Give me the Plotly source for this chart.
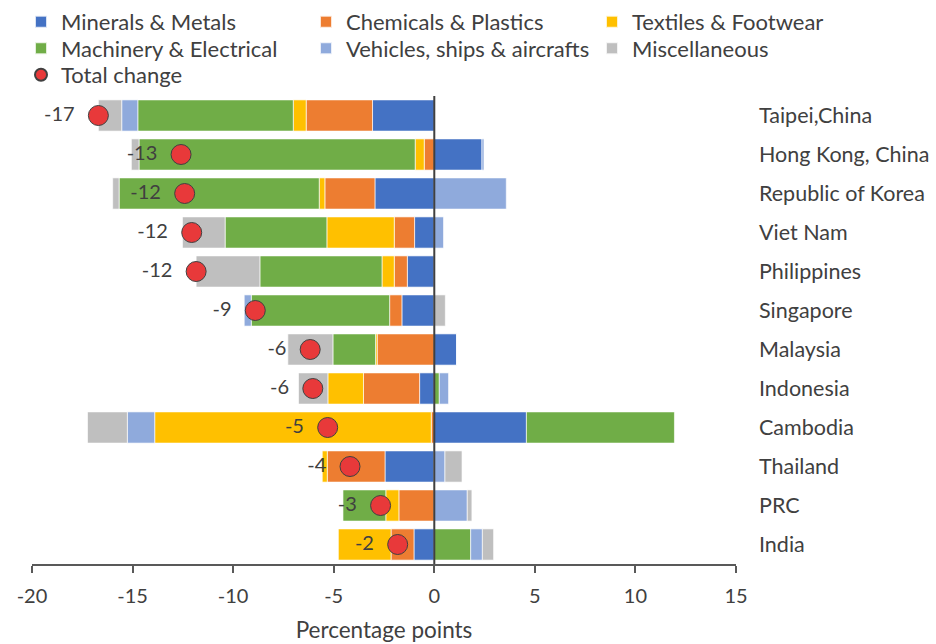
import plotly.graph_objects as go

economies = ["Taipei,China", "Hong Kong, China", "Republic of Korea", "Viet Nam",
             "Philippines", "Singapore", "Malaysia", "Indonesia", "Cambodia",
             "Thailand", "PRC", "India"]

minerals_metals = [-3.07, 2.37, -2.95, -0.98, -1.34, -1.61, 1.11, -0.73, 4.58, -2.45, 0.0, -1.01]
chemicals_plastics = [-3.30, -0.50, -2.49, -1.01, -0.65, -0.61, -2.84, -2.79, -0.15, -2.87, -1.76, -1.14]
textiles_footwear = [-0.64, -0.45, -0.28, -3.35, -0.61, 0.0, -0.08, -1.77, -13.75, -0.25, -0.65, -2.62]
machinery_electrical = [-7.73, -13.73, -9.95, -5.06, -6.07, -6.88, -2.12, 0.25, 7.36, 0.0, -2.13, 1.81]
vehicles_ships_aircraft = [-0.80, 0.10, 3.58, 0.46, 0.0, -0.35, 0.0, 0.46, -1.36, 0.53, 1.64, 0.58]
miscellaneous = [-1.16, -0.38, -0.32, -2.12, -3.17, 0.55, -2.24, -1.46, -1.98, 0.85, 0.23, 0.56]

x_ticks = [-20, -15, -10, -5, 0, 5, 10, 15]
x_tick_labels = ["-20", "-15", "-10", "-5", "0", "5", "10", "15"]

series = [
    ("Minerals & Metals", minerals_metals, "#4472C4"),
    ("Chemicals & Plastics", chemicals_plastics, "#ED7D31"),
    ("Textiles & Footwear", textiles_footwear, "#FFC000"),
    ("Machinery & Electrical", machinery_electrical, "#70AD47"),
    ("Vehicles, ships & aircrafts", vehicles_ships_aircraft, "#8FAADC"),
    ("Miscellaneous", miscellaneous, "#BFBFBF"),
]

total_change = [round(sum(v), 2) for v in zip(*[s[1] for s in series])]

text_color = "#404040"
fig = go.Figure()

# one small legend per entry so the 3-column grid can be placed exactly
legend_ids = ["legend", "legend2", "legend3", "legend4", "legend5", "legend6", "legend7"]
legend_x = [21, 306, 592, 21, 306, 592, 21]
legend_y = [22, 22, 22, 48.5, 48.5, 48.5, 75]

for i, (name, vals, color) in enumerate(series):
    fig.add_trace(go.Bar(
        y=economies, x=vals, name=name, orientation="h",
        marker=dict(color=color, line=dict(color="rgba(255,255,255,0.8)", width=0.8)),
        width=0.8, legend=legend_ids[i],
    ))

fig.add_trace(go.Scatter(
    y=economies, x=total_change, name="Total change", mode="markers+text",
    text=[f"{round(t):.0f}  " for t in total_change],
    textposition="middle left",
    textfont=dict(size=20, color=text_color),
    marker=dict(color="#E8393A", size=20, line=dict(color="#404040", width=1)),
    legend=legend_ids[6],
))

# vertical line at zero, drawn above the bars
fig.add_shape(type="line", x0=0, x1=0, xref="x", y0=0, y1=1, yref="paper",
              line=dict(color="#404040", width=2), layer="above")

W, H = 936, 644
legends = {}
for lid, lx, ly in zip(legend_ids, legend_x, legend_y):
    legends[lid] = dict(xref="container", yref="container",
                        x=lx / W, xanchor="left", y=1 - ly / H, yanchor="middle",
                        itemsizing="constant", font=dict(size=22, color=text_color),
                        bgcolor="rgba(0,0,0,0)")

fig.update_layout(
    width=W, height=H,
    barmode="relative",
    paper_bgcolor="white", plot_bgcolor="white",
    font=dict(family="Lato", size=20, color=text_color),
    margin=dict(l=32, r=200, t=96, b=80, autoexpand=False),
    xaxis=dict(range=[-20, 15], tickvals=x_ticks, ticktext=x_tick_labels,
               showgrid=False, zeroline=False,
               showline=True, linecolor="#595959", linewidth=1.5,
               ticks="outside", ticklen=7, tickcolor="#595959", tickwidth=1.5,
               ticklabelstandoff=6,
               title=dict(text="Percentage points", standoff=16, font=dict(size=22.5)),
               tickfont=dict(size=20, color=text_color)),
    yaxis=dict(categoryorder="array", categoryarray=economies, range=[11.5, -0.5],
               side="right", showgrid=False, zeroline=False, showline=False,
               ticks="", ticklabelstandoff=22,
               tickfont=dict(size=21.5, color=text_color)),
    showlegend=True,
    **legends,
)

fig.write_html("out.html", config={"displayModeBar": False},
               post_script="document.body.style.margin = '0';")
